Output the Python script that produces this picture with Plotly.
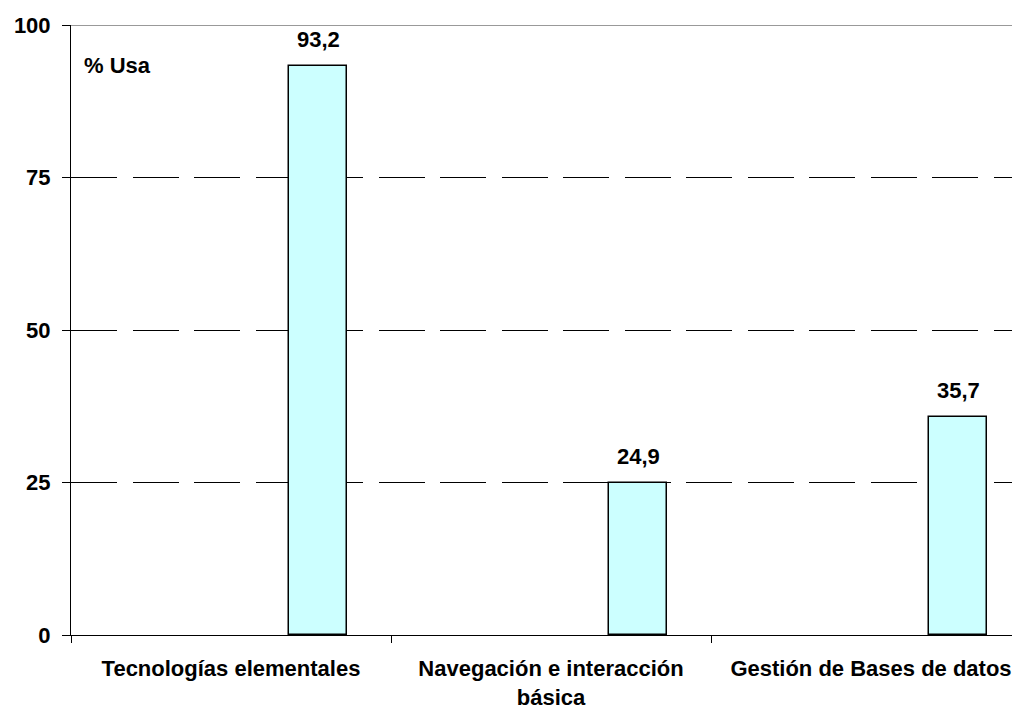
import plotly.graph_objects as go

categories = ["Tecnologías elementales", "Navegación e interacción<br>básica", "Gestión de Bases de datos"]
values = [93.2, 24.9, 35.7]
value_labels = ["93,2", "24,9", "35,7"]
y_ticks = [0, 25, 50, 75, 100]

FONT = "Liberation Sans, Arial, sans-serif"
FS = 22
BAR_OFFSET = 0.18
BAR_WIDTH = 0.184

fig = go.Figure()
fig.add_trace(go.Bar(
    x=categories, y=values,
    width=BAR_WIDTH, offset=BAR_OFFSET,
    marker=dict(color="#CCFFFF", line=dict(color="black", width=1.5)),
    showlegend=False, hoverinfo="skip",
))

for i, (v, lab) in enumerate(zip(values, value_labels)):
    fig.add_annotation(
        x=i + BAR_OFFSET + BAR_WIDTH / 2, y=v, xref="x", yref="y",
        text=lab, showarrow=False, yanchor="bottom", xanchor="center", yshift=12,
        font=dict(family=FONT, size=FS, color="black", weight="bold"),
    )

# page body has an 8px margin, so the figure is shifted by it
fig.update_layout(
    width=1012, height=703,
    margin=dict(l=63, r=0, t=17, b=76),
    paper_bgcolor="white", plot_bgcolor="white",
    font=dict(family=FONT, size=FS, color="black", weight="bold"),
    xaxis=dict(
        range=[-0.5, -0.5 + 949 / 320],
        tickson="boundaries", ticks="outside", ticklen=7, tickcolor="black",
        showline=True, linecolor="black", linewidth=1,
        showgrid=False, ticklabelstandoff=14,
        tickfont=dict(family=FONT, size=FS, color="black", weight="bold"),
    ),
    yaxis=dict(
        range=[0, 100], tickvals=y_ticks,
        ticks="outside", ticklen=8, tickcolor="black",
        showline=True, linecolor="black", linewidth=1,
        showgrid=True, gridcolor="black", gridwidth=1, griddash="46px,15.5px",
        zeroline=False, ticklabelstandoff=7,
        tickfont=dict(family=FONT, size=FS, color="black", weight="bold"),
    ),
    bargap=0,
)

fig.add_shape(type="line", xref="paper", yref="y", x0=0, x1=1, y0=100, y1=100,
              line=dict(color="#999999", width=2))
fig.add_annotation(text="% Usa", xref="paper", yref="y", x=0.012, y=93.3,
                   xanchor="left", yanchor="middle", showarrow=False,
                   font=dict(family=FONT, size=FS, color="black", weight="bold"))

fig.write_html("out.html")
